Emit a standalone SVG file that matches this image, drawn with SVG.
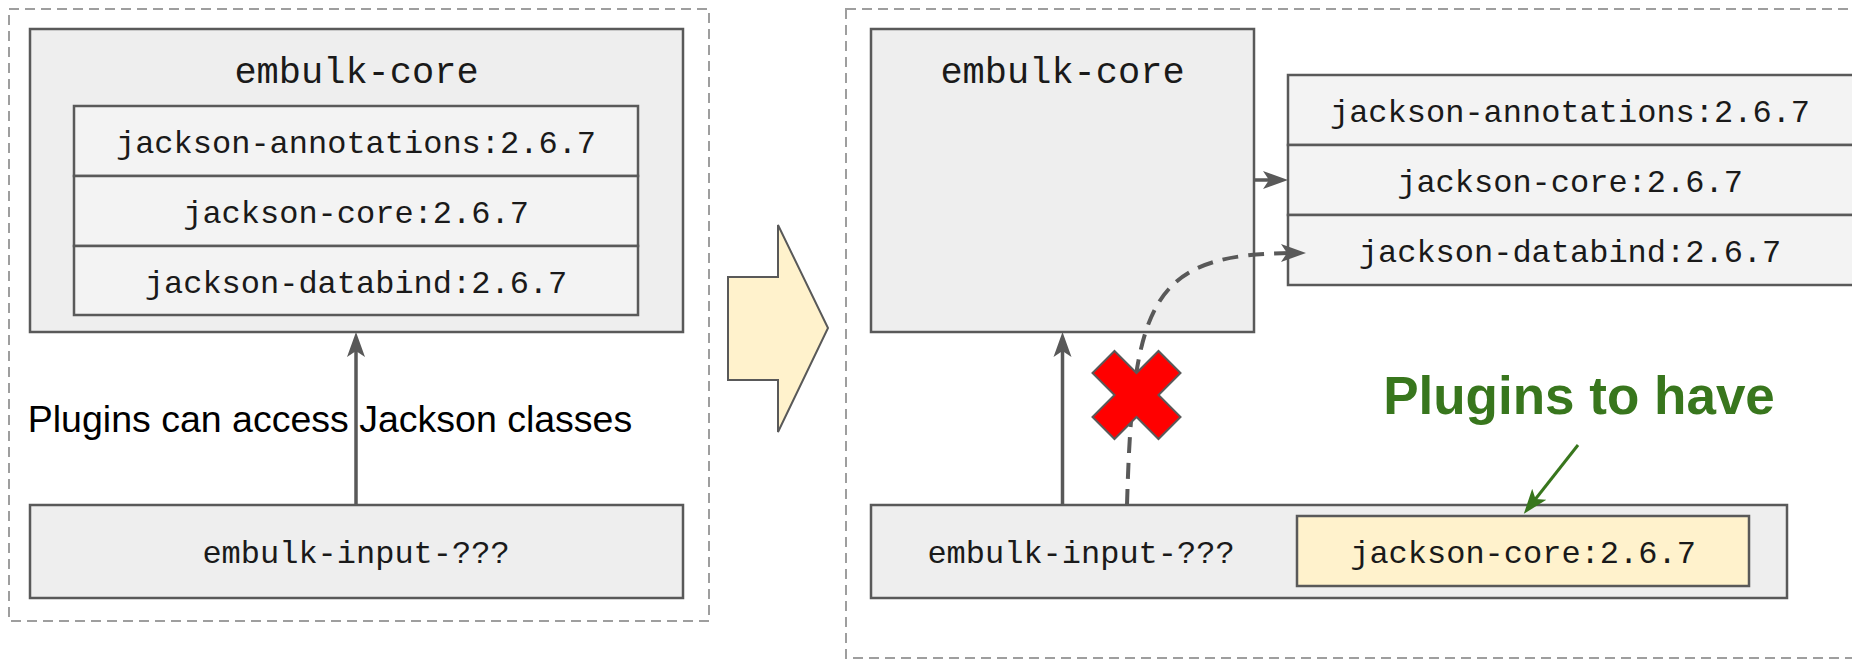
<svg xmlns="http://www.w3.org/2000/svg" width="1852" height="660" viewBox="0 0 1852 660">
<style>
.grp{fill:none;stroke:#9e9e9e;stroke-width:2;stroke-dasharray:10 6}
.box{fill:#eeeeee;stroke:#595959;stroke-width:2.5}
.row{fill:#f3f3f3;stroke:#595959;stroke-width:2.5}
.yel{fill:#fff2cc;stroke:#595959;stroke-width:2.5}
.mono{font-family:"Liberation Mono","DejaVu Sans Mono",monospace;fill:#1a1a1a;text-anchor:middle}
.m32{font-size:32px}
.m37{font-size:37px}
.conn{fill:none;stroke:#595959;stroke-width:3.5}
.dash{fill:none;stroke:#595959;stroke-width:4;stroke-dasharray:16 10}
</style>
<defs>
<marker id="ah" markerUnits="userSpaceOnUse" viewBox="0 0 26 20" refX="15" refY="10" markerWidth="26" markerHeight="20" orient="auto">
<path d="M0,1 L25,10 L0,19 L6,10 Z" fill="#595959"/>
</marker>
<marker id="ahg" markerUnits="userSpaceOnUse" viewBox="0 0 26 20" refX="15" refY="10" markerWidth="26" markerHeight="20" orient="auto">
<path d="M0,1 L25,10 L0,19 L6,10 Z" fill="#38761d"/>
</marker>
</defs>

<g id="group-before">
<rect class="grp" x="9" y="9" width="700" height="612"/>
</g>
<g id="group-after">
<rect class="grp" x="846" y="9" width="1020" height="649"/>
</g>

<g id="embulk-core-left">
<rect class="box" x="30" y="29" width="653" height="303"/>
<text class="mono m37" x="356.5" y="83">embulk-core</text>
</g>
<g id="jackson-left">
<rect class="row" x="74" y="106" width="564" height="70"/>
<rect class="row" x="74" y="176" width="564" height="70"/>
<rect class="row" x="74" y="246" width="564" height="69"/>
<text class="mono m32" x="356" y="153">jackson-annotations:2.6.7</text>
<text class="mono m32" x="356" y="223">jackson-core:2.6.7</text>
<text class="mono m32" x="356" y="293">jackson-databind:2.6.7</text>
</g>
<g id="embulk-input-left">
<rect class="box" x="30" y="505" width="653" height="93"/>
<text class="mono m32" x="356" y="563">embulk-input-???</text>
</g>
<g id="label-left">
<text x="330" y="432" font-family="'Liberation Sans',Arial,sans-serif" font-size="37.5" fill="#000" text-anchor="middle">Plugins can access Jackson classes</text>
</g>

<g id="big-arrow">
<polygon points="728,277 778,277 778,225 828,328 778,432 778,380 728,380" fill="#fff2cc" stroke="#595959" stroke-width="2"/>
</g>

<g id="embulk-core-right">
<rect class="box" x="871" y="29" width="383" height="303"/>
<text class="mono m37" x="1062.5" y="83">embulk-core</text>
</g>
<g id="jackson-right">
<rect class="row" x="1288" y="75" width="600" height="70"/>
<rect class="row" x="1288" y="145" width="600" height="70"/>
<rect class="row" x="1288" y="215" width="600" height="70"/>
<text class="mono m32" x="1570" y="122">jackson-annotations:2.6.7</text>
<text class="mono m32" x="1570" y="192">jackson-core:2.6.7</text>
<text class="mono m32" x="1570" y="262">jackson-databind:2.6.7</text>
</g>
<g id="embulk-input-right">
<rect class="box" x="871" y="505" width="916" height="93"/>
<text class="mono m32" x="1081" y="563">embulk-input-???</text>
</g>
<g id="jackson-core-plugin">
<rect class="yel" x="1297" y="516" width="452" height="70"/>
<text class="mono m32" x="1523" y="563">jackson-core:2.6.7</text>
</g>
<g id="label-right">
<text x="1579" y="414" font-family="'Liberation Sans',Arial,sans-serif" font-size="53" font-weight="bold" fill="#38761d" text-anchor="middle">Plugins to have</text>
</g>

<g id="connectors">
<line class="conn" x1="356" y1="505" x2="356" y2="342" marker-end="url(#ah)"/>
<line class="conn" x1="1062.5" y1="505" x2="1062.5" y2="342" marker-end="url(#ah)"/>
<line class="conn" x1="1254" y1="180" x2="1278" y2="180" marker-end="url(#ah)"/>
<path class="dash" d="M1127,505 C1133,300 1150,253 1296,253" marker-end="url(#ah)"/>
<line x1="1578" y1="445" x2="1530" y2="506" stroke="#38761d" stroke-width="3" marker-end="url(#ahg)"/>
</g>

<g id="red-x">
<polygon points="1114.5,351 1136.5,373 1158.5,351 1180.5,373 1158.5,395 1180.5,417 1158.5,439 1136.5,417 1114.5,439 1092.5,417 1114.5,395 1092.5,373" fill="#ff0000" stroke="#595959" stroke-width="2"/>
</g>
</svg>
